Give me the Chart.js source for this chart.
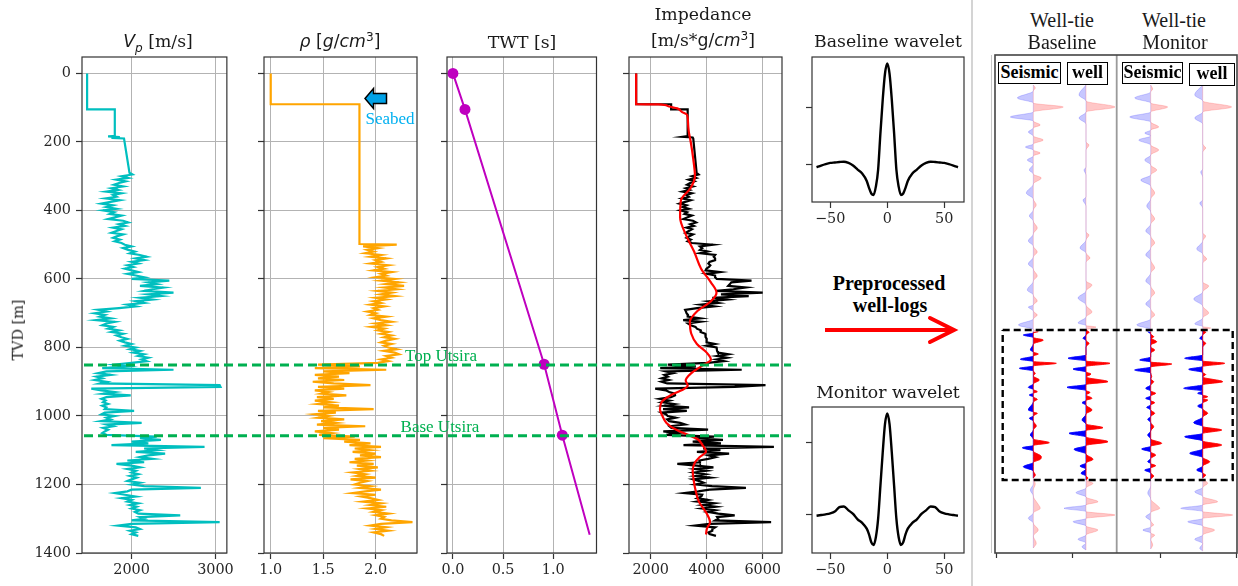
<!DOCTYPE html>
<html><head><meta charset="utf-8">
<script src="https://cdn.jsdelivr.net/npm/chart.js@4.4.1/dist/chart.umd.min.js"></script>
<style>
html,body{margin:0;padding:0;background:#fff;overflow:hidden;}
#stage{position:relative;width:1238px;height:586px;overflow:hidden;background:#fff;}
#stage canvas{position:absolute;}
.t{position:absolute;transform:translate(-50%,-50%);white-space:nowrap;color:#1a1a1a;line-height:1;}
.ser{font-family:'DejaVu Serif',serif;font-size:17.3px;}
.sans{font-family:'DejaVu Sans',sans-serif;}
.cam{font-family:'Liberation Serif',serif;}
.box{position:absolute;border:1.5px solid #000;background:#fff;font-family:'Liberation Serif',serif;font-weight:bold;font-size:18px;color:#000;text-align:center;box-sizing:border-box;line-height:19px;}
sub,sup{line-height:0;}
</style></head>
<body><div id="stage">
<div style="position:absolute;left:971px;top:0;width:1.5px;height:586px;background:#d4d4d4"></div>
<div style="position:absolute;left:991px;top:55px;width:1.2px;height:498px;background:#c8c8c8"></div>
</div>
<script>
// ------------------------- DATA -------------------------
const depthTicks = [0, 200, 400, 600, 800, 1000, 1200, 1400];
const vpTicks = [2000, 3000];
const rhoTicks = [1.0, 1.5, 2.0];
const twtTicks = [0.0, 0.5, 1.0];
const impTicks = [2000, 4000, 6000];
const waveXTicks = [-50, 0, 50];
const waveYTicks = [0, 0.5];

// shallow part (water column / seabed) of the logs
const vpTopDepth = [0, 105, 105, 182, 184, 186, 188, 190];
const vpTopVal = [1470, 1470, 1800, 1800, 1720, 1860, 1760, 1910];
const rhoTopDepth = [0, 90, 90, 498];
const rhoTopVal = [1.0, 1.0, 1.845, 1.845];
const impTopDepth = [0, 90, 90, 105, 105, 183, 185, 187, 190];
const impTopVal = [1480, 1480, 2730, 2730, 3320, 3320, 3140, 3500, 3520];

// log samples (m)
const logDepth = [
 290,295,300,305,310,315,320,325,330,335,340,345,350,355,360,365,370,375,380,385,
 390,395,400,405,410,415,420,425,430,435,440,445,450,455,460,465,470,475,480,485,
 490,495,500,505,510,515,520,525,530,535,540,545,550,555,560,565,570,575,580,585,
 590,595,600,605,610,615,620,625,630,635,640,645,650,655,660,665,670,675,680,685,
 690,695,700,705,710,715,720,725,730,735,740,745,750,755,760,765,770,775,780,785,
 790,795,800,805,810,815,820,825,830,835,840,845,850,855,860,865,870,875,880,885,
 890,895,900,905,910,915,920,925,930,935,940,945,950,955,960,965,970,975,980,985,
 990,995,1000,1005,1010,1015,1020,1025,1030,1035,1040,1045,1050,1055,1060,1065,1070,1075,1080,1085,
 1090,1095,1100,1105,1110,1115,1120,1125,1130,1135,1140,1145,1150,1155,1160,1165,1170,1175,1180,1185,
 1190,1195,1200,1205,1210,1215,1220,1225,1230,1235,1240,1245,1250,1255,1260,1265,1270,1275,1280,1285,
 1290,1295,1300,1305,1310,1315,1320,1325,1330,1335,1340,1345,1350];

const vpVal = [
 1975,2010,1880,1960,1820,1930,1850,1790,1900,1760,1840,1700,1880,1780,1820,1690,1860,1750,1640,1780,
 1700,1820,1660,1790,1740,1880,1800,1720,1900,1960,1850,1920,1780,1880,1820,1760,1900,1830,1780,1860,
 1800,1880,1920,2000,1900,1960,2040,1980,2100,2180,2050,2150,2000,2080,1950,2020,1920,2000,2080,1950,
 2050,2150,2000,2450,2200,2300,2100,2380,2250,2150,2500,2200,2350,2100,2250,2050,2150,1950,2050,1850,
 1600,1700,1560,1680,1620,1750,1580,1800,1700,1650,1780,1720,1850,1760,1900,1820,1880,1950,1860,1920,
 2000,1920,2050,1980,2100,2020,2150,2080,2200,2120,2180,2000,1800,1950,1650,2500,1700,1600,1750,1580,
 1650,1560,1700,1620,3050,3060,1520,1640,1800,1660,1990,1700,1640,1690,1660,1720,1650,1700,1680,2030,
 1680,1640,1800,1700,1750,1640,2120,1700,1780,1660,1720,1680,1650,1700,2300,2100,2350,2000,2200,1760,
 2870,2150,2300,2050,2400,2200,2100,2250,1950,2150,1820,2000,2100,1950,2050,2000,2080,1980,2060,2000,
 1950,2100,2000,2150,2826,2000,1950,1800,1920,2050,1880,2000,1950,2080,1980,2060,2000,2100,2040,2080,
 2580,2100,2150,2000,3050,2000,1840,2050,2100,1980,2050,2000,2080];

// density from 500 m (same depth samples as logDepth from 500 m)
const rhoVal = [
 2.20,1.88,2.02,1.92,1.98,1.90,2.05,1.95,2.10,2.00,2.05,1.95,2.12,2.02,2.08,1.98,2.15,2.05,2.10,2.00,
 2.18,2.05,2.22,2.10,2.27,2.08,2.20,2.02,2.15,2.05,2.18,2.00,2.10,1.98,2.05,1.95,2.08,1.98,2.02,1.92,
 2.00,1.95,2.10,1.98,2.05,2.15,2.00,2.10,1.96,2.08,2.02,2.12,2.05,2.15,2.08,2.18,2.10,2.05,2.15,2.08,
 2.12,2.20,2.08,2.18,2.22,2.10,2.15,2.05,2.12,2.02,1.45,1.85,1.42,2.10,1.50,1.75,1.42,1.65,1.45,1.70,
 1.40,1.60,1.95,1.45,1.70,1.42,1.55,1.48,1.72,1.44,1.60,1.42,1.58,1.45,1.65,1.50,1.98,1.45,1.62,1.42,
 1.55,1.45,1.70,1.48,1.62,1.44,1.90,1.50,1.65,1.42,1.58,1.46,1.80,1.50,1.85,1.70,1.95,1.75,2.05,1.80,
 1.95,1.78,2.00,1.85,2.05,1.80,1.92,1.75,1.98,1.82,2.02,1.85,1.95,1.78,1.90,1.82,2.00,1.76,1.92,1.85,
 1.80,1.95,1.85,2.05,1.90,1.78,2.00,1.86,1.95,2.02,1.88,2.05,1.95,2.10,1.92,2.05,1.98,2.12,2.00,2.08,
 2.05,2.15,2.35,2.05,1.95,2.10,2.00,2.12,1.98,2.05,2.08];
const rhoDepth = logDepth.slice(42);

const impVal = [
 3640,3710,3470,3620,3360,3560,3410,3300,3510,3250,3390,3140,3470,3280,3360,3120,3430,3230,3030,3280,
 3140,3360,3060,3300,3210,3470,3320,3170,3510,3620,3410,3540,3280,3470,3360,3250,3510,3380,3280,3430,
 3320,3470,4220,3760,3840,3760,4040,3760,4300,4250,4300,4300,4100,4060,4130,4080,3990,3960,4470,4000,
 4300,4300,4360,5600,4880,4830,4770,5400,4950,4340,6000,4510,5500,4200,4730,4060,4410,3800,4260,3660,
 3230,3260,3280,3330,3320,3760,3160,3780,3330,3430,3600,3650,3790,3780,3950,3970,3950,4000,4000,3990,
 4300,3990,4350,4360,4370,4400,4770,4370,4730,4350,4620,4040,2610,3610,2340,5250,2550,2800,2490,2610,
 2390,2650,2380,2590,6100,5000,2160,2540,2660,2860,2870,2720,2330,2670,2410,2840,2480,3370,2440,3290,
 2390,2540,2610,2890,2590,2660,3050,3230,2670,2740,4050,2450,2970,2550,4260,3570,4580,3500,4510,3170,
 6400,3870,4490,3650,4800,4070,4310,4050,3740,3760,2950,3640,4240,3610,4000,3560,3950,3600,4120,3520,
 3740,3890,3600,4190,5400,4100,3700,3200,3840,3810,3670,4040,3670,4260,3860,4330,3840,4310,4040,4410,
 5000,4370,4410,4300,6300,4100,3590,4300,4200,4200,4060,4100,4330];

// smoothed impedance trend (red)
const trendDepth = [0,90,90.5,95,102,112,121,140,170,200,250,300,335,370,420,470,520,570,610,640,665,695,725,760,790,815,835,855,875,896,912,925,940,958,980,1000,1021,1041,1055,1068,1085,1104,1120,1136,1160,1190,1220,1250,1285,1310,1328,1346];
const trendVal = [1480,1480,2270,2600,2950,3110,3300,3330,3360,3430,3520,3580,3420,3080,3050,3250,3550,3800,4150,4350,4150,3650,3400,3450,3650,4000,4150,3800,3450,3250,3320,3100,2700,2400,2330,2420,2570,2930,3330,3680,3850,3975,3750,3580,3500,3540,3610,3720,4000,4120,4010,3975];

// two-way time checkpoints
const twtDepth = [0, 105, 849, 1056, 1347];
const twtTime = [0, 0.12, 0.909, 1.09, 1.363];

// horizons
const horizonName = ['Top Utsira', 'Base Utsira'];
const horizonDepth = [851, 1058];

// wavelets (lag ms, amplitude)
const waveLag = [-62,-58,-54,-50,-46,-42,-38,-34,-30,-26,-22,-18,-16,-14,-12,-10,-8,-6,-4,-2,0,2,4,6,8,10,12,14,16,18,22,26,30,34,38,42,46,50,54,58,62];
const baseWavelet = [-0.02,-0.005,0.008,0.018,0.022,0.026,0.029,0.018,-0.005,-0.04,-0.075,-0.14,-0.2,-0.25,-0.263,-0.19,-0.04,0.28,0.57,0.8,0.89,0.8,0.57,0.28,-0.04,-0.19,-0.263,-0.25,-0.2,-0.14,-0.075,-0.04,-0.005,0.018,0.029,0.026,0.022,0.018,0.008,-0.005,-0.02];
const monWavelet = [-0.01,-0.005,0.0,0.007,0.02,0.05,0.055,0.028,0.003,-0.035,-0.06,-0.1,-0.14,-0.195,-0.214,-0.16,-0.03,0.2,0.43,0.63,0.705,0.63,0.43,0.2,-0.03,-0.16,-0.214,-0.195,-0.14,-0.1,-0.06,-0.035,0.003,0.028,0.055,0.05,0.02,0.007,0.0,-0.005,-0.01];

// well-tie traces: [time, amplitude]
const baseSeismic = [[30,0],[33,2],[36,0],[43,-16],[48,0],[52,30],[57,0],[62,-23],[66,0],[70,7],[73,0],[77,-5],[81,0],[85,10],[89,0],[92,-8],[95,0],[98,7],[101,0],[105,-6],[109,0],[115,-4],[119,0],[123,8],[129,0],[138,-7],[144,0],[150,3],[155,0],[161,-4],[166,0],[173,4],[179,0],[186,-5],[191,0],[197,4],[202,0],[209,-5],[214,0],[221,4],[226,0],[235,-6],[240,0],[246,4],[250,0],[252,-5],[256,0],[260,4],[264,0],[270,-15],[274.5,0],
 [276.7,5],[278,0],[280,-10],[282.5,0],[285,10],[289,0],[295,-3],[297,0],[299,5],[301,0],[304.3,-13],[306.5,0],[308.3,23],[311,0],[313.3,-14],[316,0],[318.3,2],[321,0],[325,6],[329,0],[332.3,-5],[334.5,0],[336.7,4],[338.3,0],[340,-4],[342,0],[344.3,4],[347,0],[355,-5],[357,0],[358.3,4],[361,0],[363.3,-4],[366,0],[371,3],[375,0],[380,-3],[384,0],[387.7,16],[390.5,0],[392.7,-11],[396,0],[401.7,8],[404.3,7],[407.5,0],[411.7,-10],[416,0],[420,2],[423,0],
 [429,2],[435,-3],[441,0],[448,4],[453.3,7],[458,0],[463.3,-5],[468,0],[475,5],[481,0],[488.3,3],[493,0]];
const baseWell = [[30,0],[40,-7],[46,0],[52,29],[57,0],[63,-7],[69,0],[87,0],[90,3],[95,0],[112,0],[115,-2],[120,0],[142,0],[145,-3],[151,0],[177,0],[180,3],[185,0],[193,-6],[198,0],[203,4],[207,0],[226,0],[230,6],[236,0],[243,-8],[250,0],[257,6],[262,0],[268,-8],[270.5,0],[272,10],[275,0],
 [277.3,3],[280,0],[283.3,-3],[285.5,0],[288.3,3],[292,0],[300,0],[303.3,-18],[306,0],[308.3,24],[311.5,0],[314,-13],[317,0],[319,5],[322,0],[326.7,22],[329.5,0],[332.3,-19],[335.5,0],[337.5,4],[340,0],[343.3,6],[345.5,0],[347.7,-4],[350,0],[355,6],[359,0],[365,-4],[369,0],[372.7,17],[375.5,0],[378.3,-17],[382,0],[386.7,22],[390.5,0],[394.3,-12],[399,0],[404.3,7],[408,0],[411,-6],[414,0],[418.3,-5],[421,0],[423,2],[425,0],
 [428.3,7],[433,0],[437.7,-10],[442,0],[446.7,12],[450,0],[453.3,-22],[456.5,0],[460,29],[463.5,0],[466.7,-13],[471,0],[475,12],[480,0],[484.3,-8],[488,0],[491.7,-4],[495,0]];
const monSeismic = [[30,0],[34,2],[37,0],[43,-16],[48,0],[52,17],[57,0],[62,-21],[67,0],[72,8],[75,0],[78,-6],[81,0],[85,-12],[90,0],[95,8],[100,0],[105,-6],[110,0],[115,6],[120,0],[125,-10],[131,0],[138,4],[144,0],[151,-4],[157,0],[164,4],[169,0],[176,-5],[181,0],[188,4],[193,0],[200,-5],[205,0],[213,4],[218,0],[226,-5],[231,0],[238,4],[243,0],[249,-5],[254,0],[260,4],[264,0],[270,-14],[274.5,0],
 [276.7,-3],[279,0],[281.7,3],[283.5,1],[286.7,6],[290,0],[292,0],[295,4],[298,0],[302,0],[305,-11],[307,0],[309,21],[312,0],[315,-16],[318,0],[321.7,1],[324,0],[326.7,3],[330,0],[333.3,-5],[336,0],[338.3,5],[341,0],[343.3,-5],[345.5,0],[347.7,4],[350,0],[352.3,-4],[355,0],[358.3,4],[361.5,0],[364.3,-3],[367.5,0],[371.7,3],[376,0],[380,-3],[384,0],[388.3,11],[391.3,0],[394,-9],[397,0],[400,5],[403.5,0],[406.7,-3],[408.5,0],[410.7,5],[413,0],[415,-6],[418,0],[421,3],[424,0],
 [431,0],[438,-3],[444,0],[450,6],[453.3,9],[457.5,0],[461.7,-5],[466,0],[470,3],[472,0],[475,-8],[478,0],[480,4],[484,0],[490,2],[494,0]];
const monWell = [[30,0],[40,-8],[46,0],[52,29],[57,0],[63,-8],[69,0],[89,0],[93,3],[97,0],[114,0],[117,-2],[122,0],[145,0],[148,-3],[153,0],[178,0],[181,3],[186,0],[194,-6],[199,0],[204,4],[208,0],[227,0],[231,6],[237,0],[244,-9],[251,0],[258,6],[263,0],[269,-8],[271.5,0],[273,8],[275,0],
 [277.3,3],[280,0],[283.3,-3],[285.5,0],[288.3,3],[292,0],[300,0],[303.3,-18],[306,0],[308.3,22],[311.5,0],[314.3,-14],[317.5,0],[319.5,3],[322,0],[326.7,20],[329.7,0],[333.3,-19],[336,0],[338.3,-5],[340,0],[341.7,5],[343.5,0],[345,5],[348,0],[351,-5],[354,0],[358.3,5],[362,0],[367.7,-9],[371.5,0],[375,19],[378.5,0],[381.7,-18],[386,0],[390,19],[394,0],[398.3,-13],[402.5,0],[406.7,7],[411,0],[415,-6],[418,0],[420,3],[423,0],
 [428.3,5],[432.5,0],[436.7,-8],[441.5,0],[446.7,15],[450,0],[453.3,-22],[456.5,0],[460,30],[463.5,0],[466.7,-15],[471,0],[475,12],[480,0],[484.3,-8],[488.5,0],[493.3,-3],[496,0]];
const tieWindow = [275, 425];

// ------------------------- LAYOUT / STYLE -------------------------
const stage = document.getElementById('stage');
const TF = {family: "'DejaVu Serif', serif", size: 14.4};
const fixTicks = arr => s => { s.ticks = arr.map(v => ({value: v})); };
const none = () => '';
const intFmt = v => String(v);
const fix1 = v => Number(v).toFixed(1);
const minusFmt = v => (v < 0 ? '\u2212' + Math.abs(v) : String(v));

Chart.register({
  id: 'frame',
  defaults: {color: '#333', width: 1.2},
  afterDatasetsDraw(chart, args, o) {
    const a = chart.chartArea, ctx = chart.ctx;
    ctx.save(); ctx.strokeStyle = o.color; ctx.lineWidth = o.width;
    ctx.strokeRect(a.left, a.top, a.right - a.left, a.bottom - a.top);
    ctx.restore();
  }
});

function place(rect, L, B, cfg, frame, padT = 16, padR = 3) {
  const c = document.createElement('canvas');
  const w = rect.r - rect.l + L + padR, h = rect.b - rect.t + padT + B;
  c.width = w; c.height = h;
  c.style.left = (rect.l - L) + 'px'; c.style.top = (rect.t - padT) + 'px';
  c.style.width = w + 'px'; c.style.height = h + 'px';
  stage.appendChild(c);
  cfg.options.responsive = false;
  cfg.options.animation = false;
  cfg.options.devicePixelRatio = 1;
  cfg.options.events = [];
  cfg.options.layout = {padding: {top: padT, right: padR, left: 0, bottom: 0}};
  cfg.options.plugins = {legend: {display: false}, tooltip: {enabled: false}, frame: frame === false ? false : (frame || {})};
  return new Chart(c, cfg);
}

function xAxis(min, max, ticks, fmt, gridOn, B, tickLen = 6) {
  return {type: 'linear', min, max, position: 'bottom',
    afterBuildTicks: fixTicks(ticks), afterFit: s => { s.height = B; },
    ticks: {callback: fmt, font: TF, color: '#262626', padding: 3, maxRotation: 0, autoSkip: false},
    grid: {drawOnChartArea: gridOn, color: '#b3b3b3', lineWidth: 1, drawTicks: true, tickLength: tickLen, tickColor: '#333', tickWidth: 1.2},
    border: {display: false}};
}
function yAxis(min, max, ticks, fmt, gridOn, L, reverse) {
  return {type: 'linear', min, max, reverse, position: 'left',
    afterBuildTicks: fixTicks(ticks), afterFit: s => { s.width = L; },
    ticks: {callback: fmt, font: TF, color: '#262626', padding: 5, autoSkip: false},
    grid: {display: ticks.length > 0, drawOnChartArea: gridOn, color: '#b3b3b3', lineWidth: 1, drawTicks: true, tickLength: 6, tickColor: '#333', tickWidth: 1.2},
    border: {display: false}};
}

const pts = (dep, val) => dep.map((d, i) => ({x: val[i], y: d}));
const line = (data, color, width, extra) => Object.assign({data, borderColor: color, backgroundColor: color, borderWidth: width, pointRadius: 0, fill: false, tension: 0}, extra || {});

const YMIN = -48, YMAX = 1400;
function logPanel(rect, xmin, xmax, xt, xfmt, datasets, yfmt) {
  return place(rect, 60, 36, {type: 'line', data: {datasets},
    options: {indexAxis: 'y', scales: {
      x: xAxis(xmin, xmax, xt, xfmt, true, 36),
      y: yAxis(YMIN, YMAX, depthTicks, yfmt, true, 60, true)}}});
}

// Vp
logPanel({l: 82, t: 57, r: 234, b: 553}, 1409, 3136, vpTicks, intFmt,
  [line(pts(vpTopDepth, vpTopVal).concat(pts(logDepth, vpVal)), '#00bfbf', 2.2)], intFmt);
// density
logPanel({l: 264, t: 57, r: 417, b: 553}, 0.936, 2.393, rhoTicks, fix1,
  [line(pts(rhoTopDepth, rhoTopVal).concat(pts(rhoDepth, rhoVal)), '#ffa500', 2.2)], none);
// TWT
logPanel({l: 447, t: 57, r: 599, b: 553}, -0.059, 1.431, twtTicks, fix1,
  [line(pts(twtDepth, twtTime), '#bf00bf', 2, {pointRadius: c => (c.dataIndex < twtDepth.length - 1 ? 5.5 : 0), pointBackgroundColor: '#bf00bf', pointBorderWidth: 0})], none);
// Impedance
logPanel({l: 629, t: 57, r: 782, b: 553}, 1225, 6689, impTicks, intFmt,
  [line(pts(trendDepth, trendVal), '#ff0000', 2.2, {cubicInterpolationMode: 'monotone', order: 0}),
   line(pts(impTopDepth, impTopVal).concat(pts(logDepth, impVal)), '#000000', 2.2, {order: 1})], none);

// wavelets
function wavePanel(rect, ymin, ymax, amp) {
  return place(rect, 12, 32, {type: 'line',
    data: {datasets: [line(waveLag.map((x, i) => ({x, y: amp[i]})), '#000000', 2.4, {cubicInterpolationMode: 'monotone'})]},
    options: {scales: {
      x: xAxis(-66, 67.3, waveXTicks, minusFmt, false, 32),
      y: yAxis(ymin, ymax, waveYTicks, none, false, 12, false)}}});
}
wavePanel({l: 812, t: 57, r: 964, b: 202}, -0.3246, 0.947, baseWavelet);
wavePanel({l: 812, t: 407, r: 964, b: 553}, -0.270, 0.7495, monWavelet);

// horizon overlay
(function () {
  const rect = {l: 84, t: 57, r: 791, b: 553};
  place(rect, 0, 0, {type: 'line',
    data: {datasets: horizonDepth.map(d => line([{x: 0, y: d}, {x: 1, y: d}], '#00b050', 3, {borderDash: [9, 5]}))},
    options: {scales: {x: {type: 'linear', display: false, min: 0, max: 1},
      y: {type: 'linear', display: false, min: YMIN, max: YMAX, reverse: true}}}}, false, 0, 0);
})();

// well-tie panel
(function () {
  const rect = {l: 995, t: 55, r: 1237, b: 553};
  const W = rect.r - rect.l, H = rect.b - rect.t;
  const offsets = [38.3, 91, 155.7, 207.7];
  const traces = [baseSeismic, baseWell, monSeismic, monWell];
  const ds = [];
  const mk = (tr, off, sign, color, order) => ({
    data: tr.map(p => ({x: off + (sign > 0 ? Math.max(p[1], 0) : Math.min(p[1], 0)), y: p[0]})),
    borderColor: color, backgroundColor: color, borderWidth: 0.8, pointRadius: 0,
    fill: {value: off}, cubicInterpolationMode: 'monotone', order});
  traces.forEach((tr, k) => {
    const off = offsets[k];
    const inside = tr.filter(p => p[0] >= tieWindow[0] && p[0] <= tieWindow[1]);
    ds.push(mk(tr, off, 1, 'rgba(255,0,0,0.22)', 4));
    ds.push(mk(tr, off, -1, 'rgba(0,0,255,0.22)', 4));
    ds.push(mk(inside, off, 1, '#ff0000', 2));
    ds.push(mk(inside, off, -1, '#0000ff', 2));
  });
  ds.push(line([{x: 121.7, y: 0}, {x: 121.7, y: H}], '#9a9a9a', 1.8, {order: 5}));
  ds.push(line([{x: 7.7, y: tieWindow[0]}, {x: 237.7, y: tieWindow[0]}, {x: 237.7, y: tieWindow[1]}, {x: 7.7, y: tieWindow[1]}, {x: 7.7, y: tieWindow[0]}], '#000000', 2.4, {borderDash: [7, 4], order: 0}));
  place(rect, 3, 10, {type: 'line', data: {datasets: ds},
    options: {indexAxis: 'y', scales: {
      x: xAxis(0, W, [1, 77, 165, 241], none, false, 10, 5),
      y: yAxis(0, H, [], none, false, 3, true)}}}, {color: '#444', width: 1.6});
})();

// ------------------------- TEXT -------------------------
function txt(html, x, y, cls, style) {
  const d = document.createElement('div');
  d.className = 't ' + cls; d.innerHTML = html;
  d.style.left = x + 'px'; d.style.top = y + 'px';
  if (style) d.style.cssText += style;
  stage.appendChild(d);
}
txt('<i class="sans">V<sub style="font-size:70%">p</sub></i> [m/s]', 158, 42, 'ser');
txt('<i>ρ</i> [<i>g</i>/<i>cm</i><sup style="font-size:70%">3</sup>]', 340, 42, 'ser sans', 'font-family:"DejaVu Sans",sans-serif');
txt('TWT [s]', 522, 43, 'ser');
txt('Impedance', 703, 15, 'ser');
txt('[m/s*<span class="sans">g/<i>cm</i><sup style="font-size:70%">3</sup></span>]', 703, 41, 'ser');
txt('Baseline wavelet', 888, 42, 'ser');
txt('Monitor wavelet', 888, 393, 'ser');
txt('TVD [m]', 18, 330, 'ser', 'font-size:14.4px;transform:translate(-50%,-50%) rotate(-90deg);');
txt(horizonName[0], 441, 355, 'cam', 'font-size:17px;color:#00b050');
txt(horizonName[1], 440, 426, 'cam', 'font-size:17px;color:#00b050');
txt('Seabed', 390, 118, 'cam', 'font-size:17px;color:#00b0f0');
txt('Well-tie', 1062, 20, 'cam', 'font-size:20px');
txt('Baseline', 1062, 42, 'cam', 'font-size:20px');
txt('Well-tie', 1174, 20, 'cam', 'font-size:20px');
txt('Monitor', 1175, 42, 'cam', 'font-size:20px');
txt('Preprocessed', 889, 283, 'cam', 'font-size:20px;font-weight:bold;color:#000');
txt('well-logs', 890, 305, 'cam', 'font-size:20px;font-weight:bold;color:#000');

function box(label, l, t, w, h) {
  const d = document.createElement('div');
  d.className = 'box'; d.textContent = label;
  d.style.left = l + 'px'; d.style.top = t + 'px'; d.style.width = w + 'px'; d.style.height = h + 'px';
  stage.appendChild(d);
}
box('Seismic', 998, 62, 63, 22);
box('well', 1067, 62, 41, 23);
box('Seismic', 1122, 62, 61, 22);
box('well', 1189, 63, 46, 23);

// arrows
stage.insertAdjacentHTML('beforeend',
 '<svg width="1238" height="586" style="position:absolute;left:0;top:0;pointer-events:none">' +
 '<polygon points="365,98.5 373.5,88.5 373.5,93.5 386.5,93.5 386.5,103.5 373.5,103.5 373.5,108.5" fill="#00a2e8" stroke="#000" stroke-width="1.5" stroke-linejoin="miter"/>' +
 '<line x1="825" y1="330" x2="952" y2="330" stroke="#ff0000" stroke-width="4"/>' +
 '<polyline points="930,318 954,330 930,342" fill="none" stroke="#ff0000" stroke-width="4" stroke-linejoin="miter" stroke-linecap="round"/>' +
 '</svg>');
</script>
</body></html>
